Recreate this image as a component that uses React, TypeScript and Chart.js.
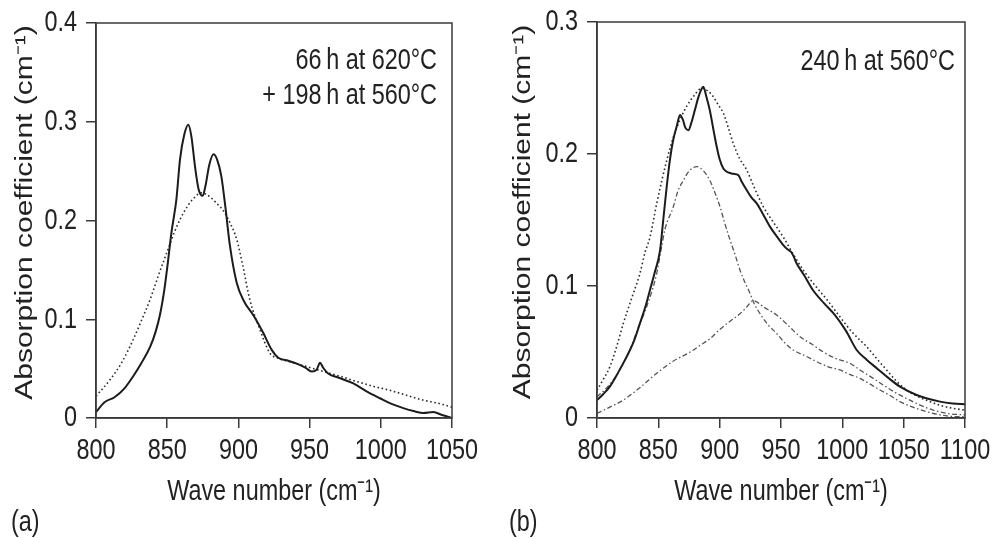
import React, { useEffect, useRef } from "react";
import { Chart, registerables } from "chart.js";

Chart.register(...registerables);

const FONT = "'Liberation Sans', Arial, sans-serif";
const FONT_SIZE = 30;
const CONDENSE = 0.78;
const INK = "#222222";
const AXIS = "#3a3a3a";

// ---------- Panel (a): 66 h at 620°C + 198 h at 560°C ----------
const aTicksX = [800, 850, 900, 950, 1000, 1050];
const aTicksY = [0, 0.1, 0.2, 0.3, 0.4];

const aMeasuredX = [800, 806, 813, 820, 826, 832, 838, 842, 845, 848, 850, 853, 856.5, 859, 862, 864.8, 867, 869.5, 872, 874.9, 877, 879.5, 882.5, 885, 888, 891, 894, 898.8, 904, 910.5, 917.5, 923.4, 928, 935, 941, 947, 951.5, 955, 957.3, 959.5, 963, 970, 980.7, 990, 999.4, 1008, 1015.8, 1023, 1030, 1036.9, 1043, 1050];
const aMeasuredY = [0.006, 0.016, 0.021, 0.03, 0.042, 0.056, 0.072, 0.088, 0.105, 0.13, 0.152, 0.188, 0.222, 0.262, 0.287, 0.297, 0.285, 0.255, 0.232, 0.225, 0.236, 0.256, 0.267, 0.262, 0.245, 0.212, 0.175, 0.137, 0.118, 0.104, 0.086, 0.069, 0.061, 0.058, 0.055, 0.051, 0.047, 0.049, 0.056, 0.051, 0.045, 0.041, 0.035, 0.027, 0.02, 0.014, 0.01, 0.007, 0.005, 0.006, 0.003, 0.0];

const aFitX = [800, 810, 818, 826, 832, 838, 844, 849.6, 855, 859, 864, 868.3, 874, 880, 885, 889.4, 894, 898.8, 903, 908, 915, 922, 929, 936, 948, 960, 972, 983, 995, 1006.5, 1018, 1030, 1040, 1050];
const aFitY = [0.022, 0.039, 0.056, 0.079, 0.099, 0.12, 0.145, 0.167, 0.188, 0.201, 0.214, 0.222, 0.228, 0.224, 0.217, 0.21, 0.198, 0.181, 0.155, 0.12, 0.09, 0.066, 0.06, 0.057, 0.052, 0.047, 0.042, 0.037, 0.032, 0.028, 0.023, 0.018, 0.015, 0.011];

// ---------- Panel (b): 240 h at 560°C ----------
const bTicksX = [800, 850, 900, 950, 1000, 1050, 1100];
const bTicksY = [0, 0.1, 0.2, 0.3];

const bMeasuredX = [800, 805, 810.6, 817, 824.2, 830, 835, 840, 843.2, 847, 851.4, 854, 856.8, 859.5, 862.2, 865, 867.7, 870, 872, 874.5, 877, 880, 883, 886.7, 889, 892, 895, 897.6, 900, 903, 907, 911, 915.2, 918, 922, 926, 930.2, 935, 941, 947, 951.9, 955, 958, 960, 962.8, 969, 976, 985, 994, 1003, 1011.7, 1020, 1029, 1038, 1047, 1060.6, 1079.6, 1090, 1100];
const bMeasuredY = [0.0136, 0.018, 0.024, 0.034, 0.0465, 0.058, 0.0717, 0.086, 0.097, 0.11, 0.127, 0.15, 0.175, 0.196, 0.211, 0.221, 0.2295, 0.226, 0.22, 0.218, 0.224, 0.234, 0.244, 0.251, 0.244, 0.233, 0.218, 0.2055, 0.196, 0.189, 0.186, 0.185, 0.184, 0.179, 0.1727, 0.167, 0.1626, 0.155, 0.145, 0.137, 0.131, 0.128, 0.126, 0.123, 0.117, 0.108, 0.097, 0.087, 0.078, 0.066, 0.0515, 0.044, 0.037, 0.03, 0.0237, 0.0174, 0.0124, 0.011, 0.0105];

const bSumX = [800, 805, 810.6, 816, 821.5, 828, 835, 839, 843.2, 848.7, 856.8, 862, 867.7, 873, 878.5, 885.3, 890, 894.8, 899, 903, 907, 911.1, 916, 922, 928, 935.6, 944, 951.9, 960, 968.2, 979, 988, 998, 1008, 1019.8, 1028, 1036.1, 1044, 1052.5, 1062, 1071.5, 1080, 1090.5, 1100];
const bSumY = [0.021, 0.029, 0.039, 0.054, 0.0717, 0.09, 0.1096, 0.125, 0.137, 0.1626, 0.195, 0.212, 0.226, 0.236, 0.2434, 0.2497, 0.248, 0.2434, 0.237, 0.231, 0.22, 0.208, 0.197, 0.188, 0.175, 0.16, 0.148, 0.137, 0.124, 0.112, 0.099, 0.089, 0.0767, 0.065, 0.054, 0.045, 0.0364, 0.028, 0.0212, 0.016, 0.0124, 0.0095, 0.0073, 0.006];

const bBand1X = [800, 807, 813.3, 820, 826.9, 833, 840.5, 848.7, 852.7, 855.4, 862.2, 866, 870.4, 875, 881.3, 887, 892, 896, 900.3, 904, 908.4, 912.5, 916.6, 920, 924.7, 928, 932.9, 940, 946.5, 953, 960, 970, 979, 988, 998, 1006, 1014.4, 1022, 1030.7, 1039, 1047, 1058, 1068.8, 1082, 1096, 1100];
const bBand1Y = [0.016, 0.022, 0.0288, 0.039, 0.0515, 0.067, 0.0843, 0.1096, 0.13, 0.143, 0.16, 0.172, 0.18, 0.187, 0.1904, 0.187, 0.18, 0.171, 0.16, 0.148, 0.135, 0.124, 0.112, 0.104, 0.0945, 0.087, 0.079, 0.07, 0.064, 0.057, 0.0515, 0.047, 0.0427, 0.039, 0.0364, 0.033, 0.03, 0.026, 0.0212, 0.017, 0.0124, 0.008, 0.0048, 0.002, 0.001, 0.001];

const bBand2X = [800, 810, 821.5, 835, 848.7, 862, 876, 884, 892, 900, 908, 916.6, 922, 927.4, 936, 946.5, 956, 965.5, 975, 984.5, 995, 1006.2, 1015, 1025.2, 1035, 1044.3, 1054, 1063.3, 1074, 1085, 1100];
const bBand2Y = [0.0035, 0.008, 0.0136, 0.023, 0.0339, 0.043, 0.05, 0.055, 0.06, 0.067, 0.073, 0.079, 0.084, 0.089, 0.084, 0.078, 0.07, 0.0616, 0.056, 0.05, 0.045, 0.0414, 0.036, 0.03, 0.024, 0.0187, 0.014, 0.0098, 0.006, 0.0035, 0.0023];

const aNotes = ["66\u2009h at 620°C", "+ 198\u2009h at 560°C"];
const bNotes = ["240\u2009h at 560°C"];
const xTitle = "Wave number (cm\u207B\u00B9)";
const yTitle = "Absorption coefficient (cm\u207B\u00B9)";

function pts(xs: number[], ys: number[]) {
  return xs.map((x, i) => ({ x, y: ys[i] }));
}

type Note = { text: string; x: number; y: number; align: CanvasTextAlign };

// The original figure is horizontally squeezed: horizontal text is narrow,
// vertical text keeps its length but its glyphs are thinner.
function figText(ctx: CanvasRenderingContext2D, text: string, x: number, y: number, align: CanvasTextAlign, vertical = false) {
  ctx.save();
  ctx.translate(x, y);
  if (vertical) {
    ctx.rotate(-Math.PI / 2);
    ctx.scale(1, CONDENSE);
  } else {
    ctx.scale(CONDENSE, 1);
  }
  ctx.font = `${FONT_SIZE}px ${FONT}`;
  ctx.fillStyle = INK;
  ctx.textAlign = align;
  ctx.textBaseline = "middle";
  ctx.fillText(text, 0, 0);
  ctx.restore();
}

function framePlugin(notes: Note[], yTitleX: number) {
  return {
    id: "frame",
    afterDatasetsDraw(chart: any) {
      const { ctx, chartArea } = chart;
      ctx.save();
      ctx.strokeStyle = AXIS;
      ctx.lineWidth = 1.5;
      ctx.strokeRect(chartArea.left, chartArea.top, chartArea.right - chartArea.left, chartArea.bottom - chartArea.top);
      ctx.restore();
    },
    afterDraw(chart: any) {
      const { ctx, chartArea } = chart;
      const xs = chart.scales.x;
      const ys = chart.scales.y;
      xs.ticks.forEach((t: any) => {
        figText(ctx, String(t.label), xs.getPixelForValue(t.value), chartArea.bottom + 33, "center");
      });
      ys.ticks.forEach((t: any) => {
        figText(ctx, String(t.label), chartArea.left - 19, ys.getPixelForValue(t.value), "right");
      });
      figText(ctx, xTitle, (chartArea.left + chartArea.right) / 2, chartArea.bottom + 74, "center");
      figText(ctx, yTitle, yTitleX, (chartArea.top + chartArea.bottom) / 2 - 8, "center", true);
      notes.forEach((n) => figText(ctx, n.text, n.x, n.y, n.align));
    },
  };
}

function panelConfig(opts: {
  datasets: any[];
  xTicks: number[];
  yTicks: number[];
  pad: { left: number; right: number; top: number; bottom: number };
  yWidth: number;
  yTitleX: number;
  notes: Note[];
}) {
  const xs = opts.xTicks;
  const ys = opts.yTicks;
  return {
    type: "scatter",
    data: { datasets: opts.datasets },
    options: {
      animation: false,
      responsive: false,
      maintainAspectRatio: false,
      layout: { padding: opts.pad },
      plugins: { legend: { display: false }, tooltip: { enabled: false } },
      elements: { point: { radius: 0, hoverRadius: 0 } },
      scales: {
        x: {
          type: "linear",
          min: xs[0],
          max: xs[xs.length - 1],
          afterBuildTicks: (s: any) => {
            s.ticks = xs.map((v) => ({ value: v }));
          },
          ticks: { display: false, callback: (v: any) => String(v), autoSkip: false },
          grid: { drawOnChartArea: false, drawTicks: true, tickLength: 10, color: AXIS, lineWidth: 1.5 },
          border: { color: AXIS, width: 1.5 },
          title: { display: false, text: xTitle },
          afterFit: (s: any) => {
            s.height = 91;
          },
        },
        y: {
          type: "linear",
          min: ys[0],
          max: ys[ys.length - 1],
          afterBuildTicks: (s: any) => {
            s.ticks = ys.map((v) => ({ value: v }));
          },
          ticks: {
            display: false,
            callback: (v: any) => (Number(v) === 0 ? "0" : Number(v).toFixed(1)),
            autoSkip: false,
          },
          grid: { drawOnChartArea: false, drawTicks: true, tickLength: 10, color: AXIS, lineWidth: 1.5 },
          border: { color: AXIS, width: 1.5 },
          title: { display: false, text: yTitle },
          afterFit: (s: any) => {
            s.width = opts.yWidth;
          },
        },
      },
    },
    plugins: [framePlugin(opts.notes, opts.yTitleX)],
  };
}

const solidStyle = { borderColor: "#1c1c1c", borderWidth: 2, showLine: true, fill: false, cubicInterpolationMode: "monotone" };
const dotStyle = { borderColor: "#2e2e2e", borderWidth: 1.6, borderDash: [1.6, 2.6], showLine: true, fill: false, cubicInterpolationMode: "monotone" };
const dashDotStyle = { borderColor: "#555555", borderWidth: 1.3, borderDash: [5, 2.5, 1.5, 2.5], showLine: true, fill: false, cubicInterpolationMode: "monotone" };

export default function App() {
  const aRef = useRef<HTMLCanvasElement>(null);
  const bRef = useRef<HTMLCanvasElement>(null);

  useEffect(() => {
    const a = new Chart(aRef.current as HTMLCanvasElement, panelConfig({
      datasets: [
        { ...solidStyle, label: "measured", data: pts(aMeasuredX, aMeasuredY) },
        { ...dotStyle, label: "fit", data: pts(aFitX, aFitY) },
      ],
      xTicks: aTicksX,
      yTicks: aTicksY,
      pad: { left: 9, right: 38, top: 23, bottom: 29 },
      yWidth: 87,
      yTitleX: 26,
      notes: [
        { text: aNotes[0], x: 437, y: 61, align: "right" },
        { text: aNotes[1], x: 437, y: 96, align: "right" },
        { text: "(a)", x: 11, y: 523, align: "left" },
      ],
    }) as any);
    const b = new Chart(bRef.current as HTMLCanvasElement, panelConfig({
      datasets: [
        { ...solidStyle, label: "measured", data: pts(bMeasuredX, bMeasuredY) },
        { ...dotStyle, label: "sum", data: pts(bSumX, bSumY) },
        { ...dashDotStyle, label: "band 1", data: pts(bBand1X, bBand1Y) },
        { ...dashDotStyle, label: "band 2", data: pts(bBand2X, bBand2Y) },
      ],
      xTicks: bTicksX,
      yTicks: bTicksY,
      pad: { left: 17, right: 30, top: 22, bottom: 29 },
      yWidth: 90,
      yTitleX: 524 - 490,
      notes: [
        { text: bNotes[0], x: 955 - 490, y: 62, align: "right" },
        { text: "(b)", x: 509 - 490, y: 523, align: "left" },
      ],
    }) as any);
    return () => {
      a.destroy();
      b.destroy();
    };
  }, []);

  return (
    <div style={{ position: "absolute", left: 0, top: 0, width: 995, height: 538, background: "#fff" }}>
      <canvas ref={aRef} width={490} height={538} style={{ position: "absolute", left: 0, top: 0, width: 490, height: 538 }} />
      <canvas ref={bRef} width={505} height={538} style={{ position: "absolute", left: 490, top: 0, width: 505, height: 538 }} />
    </div>
  );
}
